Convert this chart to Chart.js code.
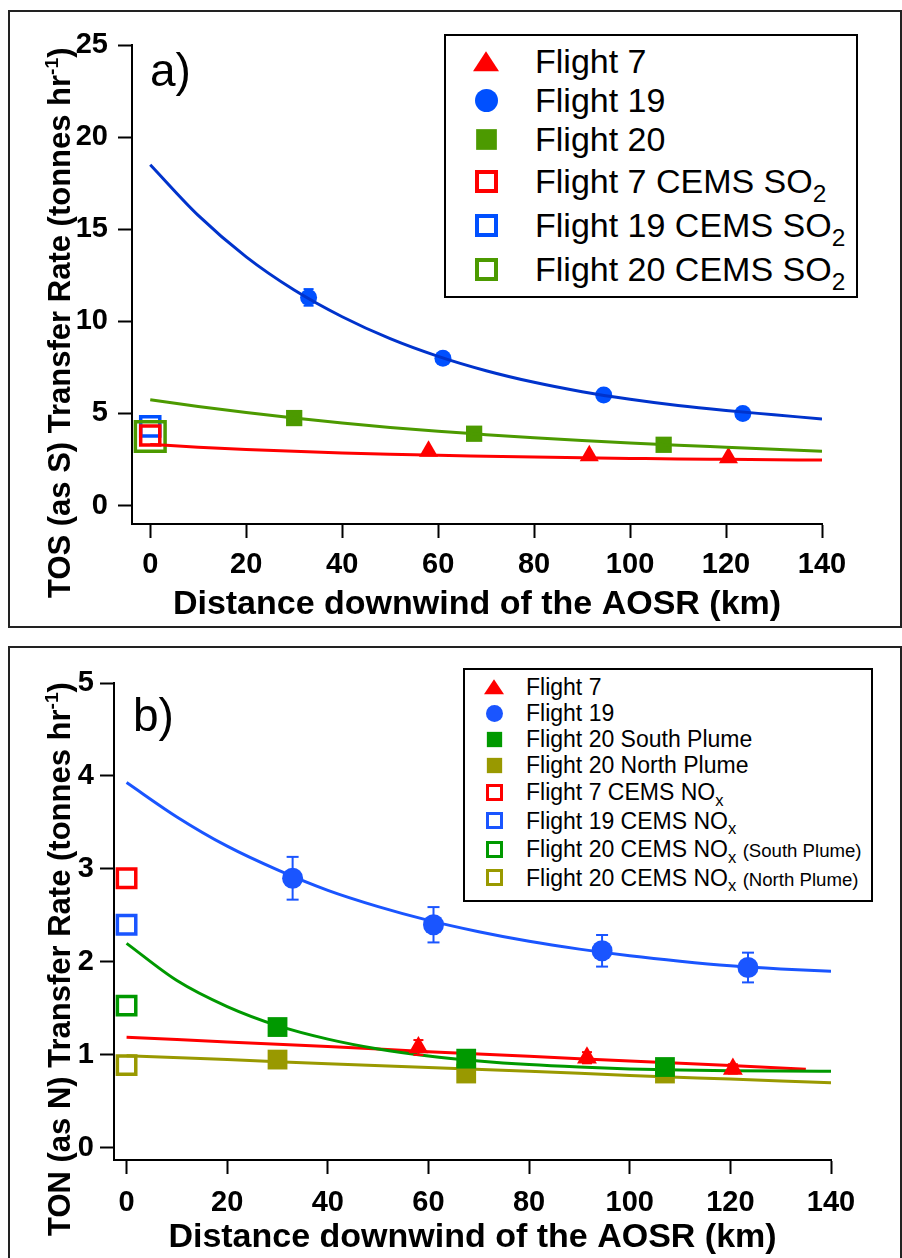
<!DOCTYPE html>
<html>
<head>
<meta charset="utf-8">
<script src="https://cdn.jsdelivr.net/npm/chart.js@4.4.1/dist/chart.umd.min.js"></script>
<style>
  body { margin: 0; background: #fff; font-family: "Liberation Sans", Arial, sans-serif; }
  #page { position: relative; width: 902px; height: 1258px; overflow: hidden; background: #fff; }
  canvas { position: absolute; left: 0; }
  .frame { position: absolute; border: 2px solid #222; box-sizing: border-box; }
  .ytitle { position: absolute; font-weight: bold; font-size: 31px; line-height: 1; white-space: nowrap;
            transform-origin: 0 0; transform: rotate(-90deg); color: #000; }
  .plabel { position: absolute; font-size: 46px; line-height: 1; color: #000; }
  .legend { position: absolute; border: 2px solid #000; box-sizing: border-box; background: #fff; }
  .row { position: relative; white-space: nowrap; color: #000; }
  .mk { position: absolute; box-sizing: border-box; }
  .sub { position: relative; top: 0.35em; font-size: 0.72em; }
  .sup { position: relative; top: -0.6em; font-size: 0.62em; }
  .small { font-size: 0.81em; }
</style>
</head>
<body>
<div id="page">
  <div class="frame" style="left:8px;top:10px;width:894px;height:618px"></div>
  <div class="frame" style="left:8px;top:646px;width:894px;height:640px"></div>
  <canvas id="chartA" width="902" height="630" style="top:0"></canvas>
  <canvas id="chartB" width="902" height="618" style="top:640px"></canvas>
  <div class="ytitle" style="left:44px;top:598px">TOS (as S) Transfer Rate (tonnes hr<span class="sup">-1</span>)</div>
  <div class="ytitle" style="left:44px;top:1236px">TON (as N) Transfer Rate (tonnes hr<span class="sup">-1</span>)</div>
  <div class="plabel" style="left:150px;top:47px">a)</div>
  <div class="plabel" style="left:133px;top:692px">b)</div>
  <div class="legend" id="legendA" style="left:444px;top:34px;width:414px;height:264px"></div>
  <div class="legend" id="legendB" style="left:463px;top:668px;width:410px;height:234px"></div>
</div>
<script>
const FONT = '"Liberation Sans", Arial, Helvetica, sans-serif';
const RED = '#ff0000';
const BLUE_A = '#0050ff', BLUE_A_FIT = '#0033cc';
const GREEN_A = '#4c9a00';
const BLUE_B = '#1a55ff';
const GREEN_B = '#009900', OLIVE_B = '#999900';

// ---- panel a (TOS as S) ----
const xTicks = [0, 20, 40, 60, 80, 100, 120, 140];
const yTicksA = [0, 5, 10, 15, 20, 25];
const distF7 = [58, 91.5, 120.5];
const distF19 = [33, 61, 94.5, 123.5];
const distF20 = [30, 67.5, 107];
const tosF7 = [2.95, 2.7, 2.6];
const tosF19 = [11.3, 8.0, 6.0, 5.0];
const tosF19Err = [0.45, 0.3, 0.3, 0.3];
const tosF20 = [4.75, 3.9, 3.3];
const cemsSO2 = { f7: 3.8, f19: 4.3, f20: 3.75 };
const fitDist = [0, 10, 20, 30, 40, 50, 60, 70, 80, 90, 100, 110, 120, 130, 140];
const fitTosF19 = [18.5, 15.75, 13.5, 11.7, 10.25, 9.06, 8.1, 7.32, 6.69, 6.18, 5.77, 5.43, 5.16, 4.93, 4.7];
const fitTosF20 = [5.75, 5.38, 5.05, 4.75, 4.48, 4.24, 4.03, 3.85, 3.68, 3.53, 3.4, 3.28, 3.17, 3.06, 2.95];
const fitTosF7 = [3.32, 3.17, 3.05, 2.95, 2.86, 2.79, 2.73, 2.68, 2.63, 2.59, 2.56, 2.53, 2.51, 2.49, 2.47];

// ---- panel b (TON as N) ----
const yTicksB = [0, 1, 2, 3, 4, 5];
const tonF7 = [1.08, 0.97, 0.85];
const tonF7Err = [0.08, 0.06, 0.05];
const tonF19 = [2.9, 2.4, 2.12, 1.94];
const tonF19Err = [0.23, 0.19, 0.17, 0.16];
const tonF20S = [1.30, 0.96, 0.87];
const tonF20N = [0.95, 0.80, 0.80];
const cemsNOx = { f7: 2.9, f19: 2.4, f20S: 1.53, f20N: 0.89 };
const fitTonF19 = [3.93, 3.56, 3.245, 2.99, 2.77, 2.595, 2.447, 2.325, 2.222, 2.138, 2.067, 2.008, 1.959, 1.925, 1.9];
const fitTonF20S = [2.2, 1.8, 1.52, 1.315, 1.17, 1.064, 0.989, 0.936, 0.897, 0.87, 0.85, 0.838, 0.83, 0.826, 0.824];
const fitDistLin = [0, 20, 40, 60, 80, 100, 120, 135];
const fitTonF7 = [1.19, 1.14, 1.09, 1.035, 0.985, 0.935, 0.885, 0.845];
const fitDistLinN = [0, 20, 40, 60, 80, 100, 120, 140];
const fitTonF20N = [0.99, 0.95, 0.905, 0.865, 0.825, 0.78, 0.74, 0.70];

const pts = (xs, ys) => xs.map((x, i) => ({ x: x, y: ys[i] }));

function markers(xs, ys, style, r, fill, stroke, bw, order) {
  return { data: pts(xs, ys), showLine: false, pointStyle: style, pointRadius: r, pointHoverRadius: r,
           pointBackgroundColor: fill, pointBorderColor: stroke, pointBorderWidth: bw, order: order, clip: false };
}
function curve(xs, ys, color, w, order) {
  return { data: pts(xs, ys), showLine: true, pointRadius: 0, borderColor: color, borderWidth: w,
           cubicInterpolationMode: 'monotone', order: order };
}
function errBars(xs, ys, errs, color, cap, order) {
  return xs.map((x, i) => ({
    data: [{ x: x, y: ys[i] - errs[i] }, { x: x, y: ys[i] + errs[i] }],
    showLine: true, borderColor: color, borderWidth: 2, pointStyle: 'line', pointRadius: cap,
    pointBorderColor: color, pointBorderWidth: 2, order: order, clip: false
  }));
}

function axes(xmin, ymin, ymax, yTicks, yWidth, xHeight, titlePad, tickPadX, tickPadY) {
  const tickFont = { family: FONT, size: 29, weight: 'bold' };
  const grid = { display: true, drawOnChartArea: false, drawTicks: true, tickLength: 14, tickWidth: 2, tickColor: '#000' };
  return {
    x: {
      type: 'linear', min: xmin, max: 140,
      afterBuildTicks: s => { s.ticks = xTicks.map(v => ({ value: v })); },
      afterFit: s => { s.height = xHeight; },
      border: { display: true, color: '#000', width: 2 },
      grid: grid,
      ticks: { color: '#000', font: tickFont, padding: tickPadX, maxRotation: 0, autoSkip: false },
      title: { display: true, text: 'Distance downwind of the AOSR (km)', color: '#000',
               font: { family: FONT, size: 34, weight: 'bold', lineHeight: 1.2 }, padding: { top: 0, bottom: titlePad } }
    },
    y: {
      type: 'linear', min: ymin, max: ymax,
      afterBuildTicks: s => { s.ticks = yTicks.map(v => ({ value: v })); },
      afterFit: s => { s.width = yWidth; },
      border: { display: true, color: '#000', width: 2 },
      grid: grid,
      ticks: { color: '#000', font: tickFont, padding: tickPadY }
    }
  };
}

const common = {
  responsive: false, animation: false, devicePixelRatio: 1,
  plugins: { legend: { display: false }, tooltip: { enabled: false } }
};

// panel a: fit curves drawn over the markers
const dsA = [
  curve(fitDist, fitTosF19, BLUE_A_FIT, 3, 0),
  curve(fitDist, fitTosF20, GREEN_A, 3, 0),
  curve(fitDist, fitTosF7, RED, 3, 0),
  markers([0], [cemsSO2.f20], 'rect', 21, 'rgba(0,0,0,0)', GREEN_A, 3.5, 1),
  markers([0], [cemsSO2.f7], 'rect', 13.5, 'rgba(0,0,0,0)', RED, 3.5, 1),
  markers([0], [cemsSO2.f19], 'rect', 13.5, 'rgba(0,0,0,0)', BLUE_A, 3.5, 1),
  markers(distF7, tosF7, 'triangle', 11, RED, RED, 0, 2),
  markers(distF19, tosF19, 'circle', 8.5, BLUE_A, BLUE_A, 0, 2),
  markers(distF20, tosF20, 'rect', 11.5, GREEN_A, GREEN_A, 0, 2),
  ...errBars(distF19, tosF19, tosF19Err, BLUE_A, 5, 3)
];

new Chart(document.getElementById('chartA'), {
  type: 'scatter',
  data: { datasets: dsA },
  options: Object.assign({}, common, {
    layout: { padding: { left: 0, right: 80, top: 45, bottom: 0 } },
    scales: axes(-3.8, -1, 25, yTicksA, 132, 106, 5, 10, 10)
  })
});

// panel b: markers drawn over the fit curves
const dsB = [
  markers([0], [cemsNOx.f7], 'rect', 13, 'rgba(0,0,0,0)', RED, 3.5, 0),
  markers([0], [cemsNOx.f19], 'rect', 13, 'rgba(0,0,0,0)', BLUE_B, 3.5, 0),
  markers([0], [cemsNOx.f20S], 'rect', 13, 'rgba(0,0,0,0)', GREEN_B, 3.5, 0),
  markers([0], [cemsNOx.f20N], 'rect', 13, 'rgba(0,0,0,0)', OLIVE_B, 3.5, 0),
  markers(distF19, tonF19, 'circle', 10.5, BLUE_B, BLUE_B, 0, 0),
  markers(distF7, tonF7, 'triangle', 11.5, RED, RED, 0, 0),
  markers(distF20, tonF20S, 'rect', 14, GREEN_B, GREEN_B, 0, 1),
  markers(distF20, tonF20N, 'rect', 14, OLIVE_B, OLIVE_B, 0, 1),
  ...errBars(distF19, tonF19, tonF19Err, BLUE_B, 6, 2),
  ...errBars(distF7, tonF7, tonF7Err, RED, 5, 2),
  curve(fitDist, fitTonF19, BLUE_B, 3, 3),
  curve(fitDist, fitTonF20S, GREEN_B, 3, 3),
  curve(fitDistLin, fitTonF7, RED, 3, 3),
  curve(fitDistLinN, fitTonF20N, OLIVE_B, 3, 3)
];

new Chart(document.getElementById('chartB'), {
  type: 'scatter',
  data: { datasets: dsB },
  options: Object.assign({}, common, {
    layout: { padding: { left: 0, right: 71, top: 43, bottom: 0 } },
    scales: axes(-2.5, -0.13, 5, yTicksB, 114, 98, 0, 12, 6)
  })
});

// ---- HTML legends (subscripts) ----
const legendItemsA = [
  { label: 'Flight 7', shape: 'tri', color: RED },
  { label: 'Flight 19', shape: 'circ', color: BLUE_A },
  { label: 'Flight 20', shape: 'sq', color: GREEN_A },
  { label: 'Flight 7 CEMS SO<span class="sub">2</span>', shape: 'open', color: RED },
  { label: 'Flight 19 CEMS SO<span class="sub">2</span>', shape: 'open', color: BLUE_A },
  { label: 'Flight 20 CEMS SO<span class="sub">2</span>', shape: 'open', color: GREEN_A }
];
const legendItemsB = [
  { label: 'Flight 7', shape: 'tri', color: RED },
  { label: 'Flight 19', shape: 'circ', color: BLUE_B },
  { label: 'Flight 20 South Plume', shape: 'sq', color: GREEN_B },
  { label: 'Flight 20 North Plume', shape: 'sq', color: OLIVE_B },
  { label: 'Flight 7 CEMS NO<span class="sub">x</span>', shape: 'open', color: RED },
  { label: 'Flight 19 CEMS NO<span class="sub">x</span>', shape: 'open', color: BLUE_B },
  { label: 'Flight 20 CEMS NO<span class="sub">x</span> <span class="small">(South Plume)</span>', shape: 'open', color: GREEN_B },
  { label: 'Flight 20 CEMS NO<span class="sub">x</span> <span class="small">(North Plume)</span>', shape: 'open', color: OLIVE_B }
];

function buildLegend(el, items, o) {
  el.style.paddingTop = o.padTop + 'px';
  items.forEach(it => {
    const h = it.label.indexOf('sub') >= 0 ? o.rowSub : o.row;
    const row = document.createElement('div');
    row.className = 'row';
    row.style.height = h + 'px';
    row.style.lineHeight = h + 'px';
    row.style.fontSize = o.font + 'px';
    row.style.paddingLeft = o.textX + 'px';
    row.innerHTML = it.label;
    const m = document.createElement('div');
    m.className = 'mk';
    const s = o.size;
    m.style.width = s + 'px';
    m.style.height = s + 'px';
    m.style.left = (o.markX - s / 2) + 'px';
    m.style.top = (h / 2 - s / 2) + 'px';
    if (it.shape === 'tri') {
      m.style.background = it.color;
      m.style.clipPath = 'polygon(50% 5%, 100% 92%, 0 92%)';
      m.style.width = (s + 3) + 'px';
      m.style.left = (o.markX - (s + 3) / 2) + 'px';
    } else if (it.shape === 'circ') {
      m.style.background = it.color;
      m.style.borderRadius = '50%';
    } else if (it.shape === 'sq') {
      m.style.background = it.color;
      m.style.transform = 'scale(0.9)';
    } else {
      m.style.border = o.bw + 'px solid ' + it.color;
    }
    row.appendChild(m);
    el.appendChild(row);
  });
}

buildLegend(document.getElementById('legendA'), legendItemsA,
  { padTop: 6, row: 39, rowSub: 44, font: 34, textX: 89, markX: 40, size: 23, bw: 4 });
buildLegend(document.getElementById('legendB'), legendItemsB,
  { padTop: 4, row: 26, rowSub: 28.5, font: 23, textX: 61, markX: 29, size: 17, bw: 3.5 });
</script>
</body>
</html>
